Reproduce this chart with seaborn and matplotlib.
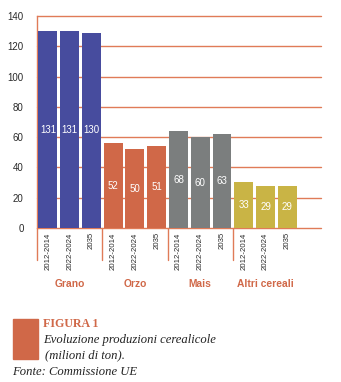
import matplotlib
matplotlib.use("Agg")
import matplotlib.pyplot as plt
import matplotlib.transforms as mtransforms
import seaborn as sns
import pandas as pd
import numpy as np

# ---- data ----
groups = ["Grano", "Orzo", "Mais", "Altri cereali"]
periods = ["2012-2014", "2022-2024", "2035"]
heights_grano = [130, 130, 129]
heights_orzo = [56, 52, 54]
heights_mais = [64, 60, 62]
heights_altri = [30.5, 28, 28]
labels_grano = ["131", "131", "130"]
labels_orzo = ["52", "50", "51"]
labels_mais = ["68", "60", "63"]
labels_altri = ["33", "29", "29"]
yticks = [0, 20, 40, 60, 80, 100, 120, 140]

group_colors = {"Grano": "#474C9E", "Orzo": "#D06848", "Mais": "#7B7E7E", "Altri cereali": "#C9B445"}
ORANGE = "#D06848"
GRID = "#E07B58"

rows = []
for g, hs, ls in zip(groups, [heights_grano, heights_orzo, heights_mais, heights_altri],
                     [labels_grano, labels_orzo, labels_mais, labels_altri]):
    for p, h, l in zip(periods, hs, ls):
        rows.append({"bar": f"{g}|{p}", "group": g, "period": p, "value": h, "label": l})
df = pd.DataFrame(rows)

sns.set_style("white")
plt.rcParams["font.family"] = ["Liberation Sans", "DejaVu Sans"]

fig = plt.figure(figsize=(3.41, 3.82), dpi=100)
W, H = 341, 382
ax = fig.add_axes([37 / W, (H - 228) / H, (321 - 37) / W, (228 - 16) / H])

sns.barplot(data=df, x="bar", y="value", hue="group", palette=group_colors,
            dodge=False, width=0.87, legend=False, ax=ax, saturation=1,
            linewidth=0, zorder=3)

ax.set_xlim(-0.5, 12.55)
ax.set_ylim(0, 140)
ax.set_yticks(yticks)
ax.set_yticklabels([str(v) for v in yticks])
ax.set_xlabel("")
ax.set_ylabel("")
ax.grid(False)
for v in yticks:
    ax.axhline(v, color=GRID, linewidth=1.0, zorder=1, clip_on=False)

for s in ["top", "right", "bottom"]:
    ax.spines[s].set_visible(False)
ax.spines["left"].set_color(GRID)
ax.spines["left"].set_linewidth(1.0)

ax.tick_params(axis="y", length=2.5, color=GRID, width=1.0, pad=7,
               labelsize=7, labelcolor="#2a2a2a")

# x tick labels (periods), rotated
ax.set_xticks(range(len(df)))
ax.set_xticklabels(df["period"].tolist(), rotation=90, fontsize=5.6, color="#2a2a2a")
ax.tick_params(axis="x", which="major", length=0, pad=3)

# group separators below the axis
trans = mtransforms.blended_transform_factory(ax.transData, ax.transAxes)
for xs in [-0.5, 2.5, 5.5, 8.5]:
    ax.plot([xs, xs], [0, -32 / 212], color=GRID, linewidth=1.0,
            transform=trans, clip_on=False, zorder=2)

# value labels
for i, row in df.iterrows():
    ax.text(i, row["value"] / 2, row["label"], ha="center", va="center",
            color="white", fontsize=7, zorder=5)

# group labels
for gi, g in enumerate(groups):
    ax.text(gi * 3 + 1, -37, g, ha="center", va="center", color=ORANGE,
            fontsize=7.4, fontweight="bold", transform=ax.transData, clip_on=False)

# caption block
fig.patches.append(plt.Rectangle((13 / W, (H - 359) / H), 25 / W, 40 / H,
                                 transform=fig.transFigure, color=ORANGE, zorder=1))
serif = ["Liberation Serif", "DejaVu Serif"]
fig.text(43 / W, (H - 324) / H, "FIGURA 1", family=serif, fontweight="bold",
         color=ORANGE, fontsize=8.6, va="center", ha="left")
fig.text(43 / W, (H - 340) / H, "Evoluzione produzioni cerealicole", family=serif,
         style="italic", color="#222222", fontsize=9.1, va="center", ha="left")
fig.text(45 / W, (H - 355) / H, "(milioni di ton).", family=serif,
         style="italic", color="#222222", fontsize=9.1, va="center", ha="left")
fig.text(12 / W, (H - 372) / H, "Fonte: Commissione UE", family=serif,
         style="italic", color="#222222", fontsize=9.1, va="center", ha="left")

fig.savefig("out.png", dpi=100)
